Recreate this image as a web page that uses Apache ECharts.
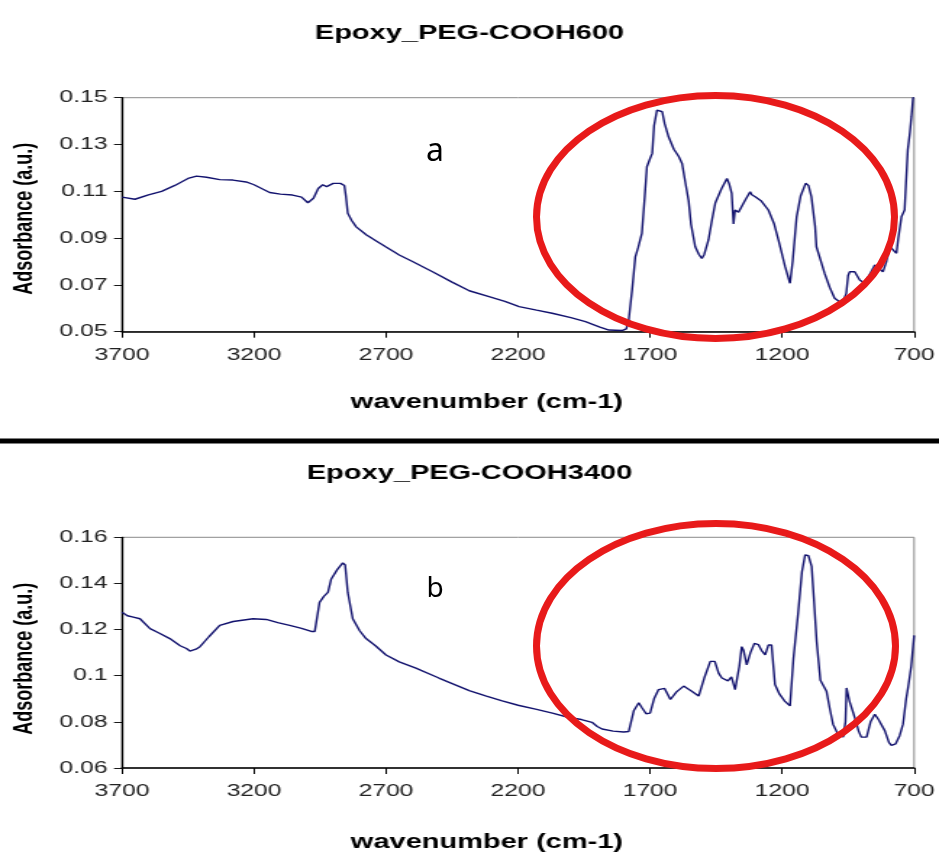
<!DOCTYPE html>
<html><head><meta charset="utf-8">
<script src="https://cdn.jsdelivr.net/npm/echarts@6/dist/echarts.min.js"></script>
<style>
html,body{margin:0;padding:0;background:#fff;}
#wrap{position:relative;width:939px;height:853px;overflow:hidden;background:#fff;}
#main{position:absolute;left:0;top:0;width:648px;height:853px;transform:scaleX(1.449074);transform-origin:0 0;}
#over{position:absolute;left:0;top:0;width:939px;height:853px;}
</style></head><body>
<div id="wrap"><div id="main"></div><div id="over"></div></div>
<script>
// ---- data ----
const titles = ['Epoxy_PEG-COOH600', 'Epoxy_PEG-COOH3400'];
const xAxisName = 'wavenumber (cm-1)';
const yAxisName = 'Adsorbance (a.u.)';
const panelLabels = ['a', 'b'];
const xTicks = [700, 1200, 1700, 2200, 2700, 3200, 3700];
const yTicksA = [0.05, 0.07, 0.09, 0.11, 0.13, 0.15];
const yTicksB = [0.06, 0.08, 0.10, 0.12, 0.14, 0.16];

const wnA = [3700,3651,3600,3550,3500,3450,3418,3380,3330,3280,3230,3200,3141,3100,3054,3020,2996,2975,2957,2940,2925,2900,2873,2858,2852,2845,2830,2813,2774,2700,2650,2600,2524,2450,2385,2310,2250,2196,2130,2071,2000,1945,1890,1856,1806,1790,1781,1768,1756,1745,1731,1720,1712,1700,1692,1685,1674,1665,1654,1645,1630,1610,1592,1579,1570,1554,1545,1529,1515,1504,1495,1479,1465,1453,1430,1409,1400,1391,1384,1378,1365,1359,1340,1321,1315,1302,1280,1252,1230,1214,1189,1170,1160,1145,1130,1111,1100,1089,1075,1070,1050,1039,1020,1001,982,965,957,950,944,925,918,906,887,870,849,840,818,805,793,780,767,760,748,736,724,716,710,704,700];
const absA = [0.1075,0.1066,0.1085,0.1100,0.1125,0.1155,0.1165,0.1160,0.1150,0.1148,0.1140,0.1128,0.1095,0.1088,0.1084,0.1075,0.1051,0.1070,0.1112,0.1128,0.1120,0.1134,0.1134,0.1125,0.1077,0.1006,0.0975,0.0948,0.0913,0.0862,0.0828,0.0800,0.0756,0.0712,0.0675,0.0650,0.0630,0.0607,0.0592,0.0579,0.0560,0.0543,0.0520,0.0507,0.0505,0.0512,0.0550,0.0680,0.0820,0.0860,0.0920,0.1080,0.1205,0.1240,0.1262,0.1380,0.1447,0.1450,0.1440,0.1390,0.1333,0.1280,0.1250,0.1219,0.1160,0.1060,0.0960,0.0863,0.0830,0.0813,0.0830,0.0892,0.0980,0.1050,0.1110,0.1155,0.1130,0.1091,0.0960,0.1020,0.1010,0.1006,0.1062,0.1098,0.1085,0.1077,0.1060,0.1020,0.0960,0.0892,0.0780,0.0707,0.0800,0.0991,0.1080,0.1134,0.1125,0.1077,0.0950,0.0863,0.0790,0.0749,0.0690,0.0643,0.0628,0.0640,0.0664,0.0740,0.0756,0.0756,0.0750,0.0721,0.0707,0.0740,0.0785,0.0780,0.0756,0.0800,0.0863,0.0850,0.0835,0.0900,0.0991,0.1020,0.1276,0.1350,0.1420,0.1500,0.1500];

const wnB = [3700,3680,3657,3632,3594,3560,3519,3480,3456,3443,3420,3405,3370,3330,3279,3204,3154,3110,3065,3020,2983,2970,2952,2935,2920,2908,2885,2864,2855,2845,2826,2800,2776,2740,2700,2650,2587,2500,2385,2320,2260,2200,2134,2070,2008,1960,1920,1900,1882,1840,1800,1781,1762,1743,1730,1715,1700,1685,1668,1645,1623,1600,1573,1545,1516,1495,1472,1455,1440,1428,1405,1392,1378,1362,1353,1346,1334,1320,1305,1290,1278,1264,1252,1240,1227,1210,1190,1170,1157,1139,1125,1113,1100,1088,1080,1069,1055,1032,1020,1007,990,969,960,956,945,925,910,900,880,865,849,835,811,795,786,770,755,742,730,723,711,700];
const absB = [0.1275,0.1260,0.1254,0.1247,0.1204,0.1185,0.1161,0.1130,0.1118,0.1107,0.1115,0.1126,0.1170,0.1218,0.1235,0.1247,0.1244,0.1230,0.1218,0.1205,0.1192,0.1192,0.1318,0.1345,0.1361,0.1418,0.1460,0.1489,0.1480,0.1361,0.1247,0.1195,0.1161,0.1130,0.1090,0.1060,0.1033,0.0990,0.0935,0.0912,0.0891,0.0872,0.0855,0.0838,0.0819,0.0810,0.0798,0.0780,0.0769,0.0760,0.0756,0.0758,0.0848,0.0883,0.0860,0.0835,0.0838,0.0900,0.0940,0.0945,0.0897,0.0930,0.0955,0.0935,0.0912,0.0990,0.1062,0.1062,0.1010,0.0990,0.0978,0.0995,0.0940,0.1040,0.1126,0.1110,0.1047,0.1100,0.1140,0.1135,0.1110,0.1090,0.1133,0.1133,0.0962,0.0920,0.0890,0.0869,0.1076,0.1275,0.1450,0.1524,0.1520,0.1474,0.1340,0.1147,0.0980,0.0933,0.0860,0.0790,0.0750,0.0734,0.0800,0.0947,0.0890,0.0819,0.0760,0.0734,0.0734,0.0800,0.0833,0.0810,0.0762,0.0710,0.0698,0.0705,0.0740,0.0790,0.0900,0.0947,0.1040,0.1175];

// ---- chart ----
const FONT = 'Liberation Sans, Arial, Helvetica, sans-serif';
const main = echarts.init(document.getElementById('main'), null, {width: 648, height: 853, renderer: 'canvas'});

function step(t) { return +(t[1] - t[0]).toFixed(6); }

const grids = [
  {left: 84.2, top: 97.7, width: 548, height: 234},
  {left: 84.2, top: 537.3, width: 548.4, height: 234}
];
const yTicks = [yTicksA, yTicksB];
const xNameGap = [61, 64];
const yNamePad = [8, 12];

const option = {
  backgroundColor: '#fff',
  animation: false,
  title: titles.map((t, i) => ({
    text: t, left: 'center', top: i === 0 ? 18 : 458,
    textStyle: {fontFamily: FONT, fontSize: 20, fontWeight: 'bold', color: '#000'}
  })),
  grid: grids.map(g => Object.assign({show: true, borderColor: '#8a8a8a', borderWidth: 1, backgroundColor: '#fff'}, g)),
  xAxis: [0, 1].map(i => ({
    gridIndex: i, type: 'value', inverse: true,
    min: xTicks[0], max: xTicks[xTicks.length - 1], interval: step(xTicks),
    axisLine: {show: true, onZero: false, lineStyle: {color: '#000', width: 1.5}},
    axisTick: {show: true, length: 6, lineStyle: {color: '#000', width: 1}},
    axisLabel: {margin: 15, fontSize: 17, color: '#222', fontFamily: FONT, showMinLabel: true, showMaxLabel: true,
      formatter: v => String(v)},
    splitLine: {show: false},
    name: xAxisName, nameLocation: 'middle', nameGap: xNameGap[i],
    nameTextStyle: {fontFamily: FONT, fontSize: 20, fontWeight: 'bold', color: '#000', padding: [0, 43, 0, 0]}
  })),
  yAxis: [0, 1].map(i => ({
    gridIndex: i, type: 'value',
    min: yTicks[i][0], max: yTicks[i][yTicks[i].length - 1], interval: step(yTicks[i]),
    axisLine: {show: true, onZero: false, lineStyle: {color: '#000', width: 1.3}},
    axisTick: {show: true, length: 5.5, lineStyle: {color: '#000', width: 0.9}},
    axisLabel: {margin: 10, fontSize: 17, color: '#222', fontFamily: FONT, showMinLabel: true, showMaxLabel: true},
    splitLine: {show: false},
    name: yAxisName, nameLocation: 'middle', nameGap: 58,
    nameTextStyle: {fontFamily: FONT, fontSize: 18, fontWeight: 'bold', color: '#000', padding: [0, yNamePad[i], 0, 0]}
  })),
  series: [[wnA, absA], [wnB, absB]].map((d, i) => ({
    type: 'line', xAxisIndex: i, yAxisIndex: i,
    data: d[0].map((w, k) => [w, d[1][k]]),
    showSymbol: false, symbol: 'none', clip: true,
    lineStyle: {color: '#12126e', width: 1.4}
  }))
};
main.setOption(option);

// ---- overlay (red annotations, panel letters, separator) ----
const over = echarts.init(document.getElementById('over'), null, {width: 939, height: 853, renderer: 'canvas'});
over.setOption({
  animation: false,
  graphic: [
    {type: 'line', shape: {x1: 0, y1: 441, x2: 939, y2: 441}, style: {stroke: '#000', lineWidth: 5}},
    {type: 'ellipse', shape: {cx: 715.5, cy: 217, rx: 179, ry: 121.5}, style: {fill: 'none', stroke: '#e81a1a', lineWidth: 7}},
    {type: 'ellipse', shape: {cx: 716, cy: 646, rx: 179.5, ry: 122.4}, style: {fill: 'none', stroke: '#e81a1a', lineWidth: 7}},
    {type: 'text', x: 435, y: 152, style: {text: panelLabels[0], fontSize: 32, fontFamily: 'Noto Sans, Liberation Sans, sans-serif', fill: '#000', align: 'center', verticalAlign: 'middle', textAlign: 'center', textVerticalAlign: 'middle'}},
    {type: 'text', x: 435, y: 589, style: {text: panelLabels[1], fontSize: 28, fontFamily: 'Noto Sans, Liberation Sans, sans-serif', fill: '#000', align: 'center', verticalAlign: 'middle', textAlign: 'center', textVerticalAlign: 'middle'}}
  ]
});
</script>
</body></html>
